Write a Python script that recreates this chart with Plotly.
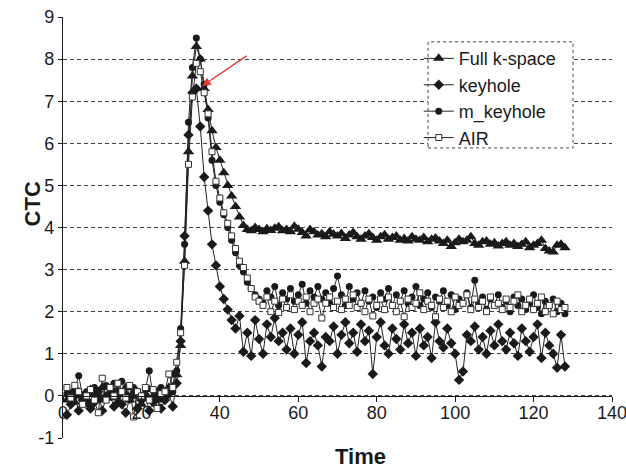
import plotly.graph_objects as go

# ---------------- data ----------------
FULL_KSPACE = [
    -0.1, 0.05, -0.15, 0.1, 0.0, -0.2, 0.15, 0.05, -0.1, 0.2,
    0.0, -0.05, 0.1, -0.15, 0.05, 0.2, -0.1, 0.0, 0.1, -0.2,
    0.05, 0.15, -0.05, 0.1, -0.1, 0.05, 0.2, 0.5,
    0.5, 1.2, 3.2, 5.8, 7.6, 8.3, 8.0, 7.3, 6.8, 6.3, 5.9, 5.6,
    5.3, 5.0, 4.75, 4.5, 4.25, 4.05, 3.95,
    3.92, 4.0, 3.95, 3.9, 3.97, 3.93, 3.98, 4.02, 3.92, 3.95, 3.9, 4.03, 3.96,
    3.88, 3.8, 3.95, 3.9, 3.82, 3.85, 3.78, 3.9, 3.84, 3.8, 3.86, 3.74, 3.82, 3.88, 3.78,
    3.72, 3.8, 3.85, 3.76, 3.7, 3.78, 3.83, 3.72, 3.76, 3.8, 3.7, 3.74, 3.68, 3.78, 3.72,
    3.7, 3.76, 3.66, 3.72, 3.75, 3.68, 3.62, 3.7, 3.55, 3.64, 3.72, 3.66, 3.7, 3.78, 3.62,
    3.58, 3.66, 3.68, 3.6, 3.64, 3.56, 3.62, 3.66, 3.58, 3.62, 3.55, 3.6, 3.66, 3.52, 3.58,
    3.62, 3.7, 3.5, 3.44, 3.42, 3.58, 3.6, 3.52,
]

KEYHOLE = [
    -0.45, -0.2, 0.0, -0.35, -0.1, 0.05, -0.3, -0.15, 0.1, -0.35,
    -0.05, 0.0, -0.25, 0.1, -0.2, -0.4, -0.05, 0.05, -0.3, -0.1,
    0.0, -0.35, -0.15, -0.05, -0.3, -0.1, 0.05, -0.25,
    0.3, 1.3, 3.8, 6.2, 7.2, 7.3, 6.4, 5.2, 4.4, 3.6, 3.1, 2.6,
    2.3, 2.05, 1.8,
    1.6, 1.9, 1.05, 1.5, 0.95, 1.8, 1.35, 1.0, 1.7, 1.4, 1.85, 1.3, 1.5, 1.1, 1.6,
    1.0, 1.45, 1.75, 0.78, 1.3, 1.5, 1.2, 0.7, 1.4, 1.3, 1.65, 1.0, 1.45, 1.75, 1.25,
    1.5, 1.05, 1.7, 1.3, 1.55, 0.52, 1.4, 1.75, 1.2, 1.0, 1.6, 1.35, 1.1, 1.7, 1.25,
    1.5, 0.95, 1.6, 1.2, 1.4, 0.9, 1.75, 1.3, 1.15, 1.6, 1.25, 1.0, 0.38, 0.58, 1.45,
    1.3, 1.65, 1.1, 1.4, 1.0, 1.55, 1.2, 1.7, 1.3, 1.1, 1.5, 1.25, 0.95, 1.6, 1.3,
    1.05, 1.4, 1.7, 0.9, 1.5, 1.2, 1.0, 0.67, 1.45, 0.7,
]

M_KEYHOLE = [
    0.05, -0.1, 0.15, 0.48, 0.0, 0.1, -0.15, 0.2, 0.05, -0.05,
    0.25, 0.1, 0.3, 0.0, 0.35, 0.05, -0.1, 0.2, 0.1, 0.0,
    0.15, 0.6, -0.05, 0.1, 0.2, 0.0, 0.15, 0.1,
    0.6, 1.6, 3.6, 6.5, 7.8, 8.5, 8.0, 7.4, 6.6, 5.6, 5.0, 4.6,
    4.3, 4.0, 3.7, 3.4, 3.1, 2.95, 2.7, 2.55, 2.4, 2.3,
    2.2, 2.5, 2.35, 2.6, 2.15, 2.45, 2.3, 2.55, 2.25, 2.4, 2.65, 2.2, 2.5, 2.35, 2.6,
    2.3, 2.45, 2.2, 2.55, 2.85, 2.4, 2.15, 2.6, 2.3, 2.45, 2.2, 2.5, 2.25, 2.35, 2.1,
    2.45, 2.3, 2.55, 2.15, 2.4, 2.25, 2.5, 2.2, 2.35, 2.6, 2.15, 2.3, 2.45, 2.1, 2.35,
    2.25, 2.5, 2.15, 2.4, 2.05, 2.3, 2.2, 2.45, 2.1, 2.75, 2.2, 2.35, 2.05, 2.3, 2.15,
    2.4, 2.1, 2.25, 2.0, 2.35, 2.15, 2.3, 2.05, 2.2, 2.4, 2.1, 1.95, 2.25, 2.15, 2.3,
    2.0, 2.2, 1.95,
]

AIR = [
    0.2, -0.05, 0.25, 0.1, -0.2, 0.0, 0.15, -0.1, -0.4, 0.42,
    -0.1, 0.2, 0.0, 0.3, 0.1, -0.05, 0.25, -0.5, 0.1, 0.0,
    0.2, -0.1, 0.15, -0.3, 0.05, 0.1, 0.52, 0.2,
    0.8, 1.5, 3.1, 5.5, 7.1, 7.9, 7.7, 7.2, 6.7, 5.8, 5.1, 4.7,
    4.35, 4.1, 3.8, 3.5, 3.2, 3.05, 2.8, 2.55, 2.35, 2.25,
    2.15, 2.35, 2.0, 2.25, 1.98, 2.3, 2.1, 2.4, 2.05, 2.25, 2.15, 2.35, 2.0, 2.2, 2.3,
    1.85, 2.2, 2.35, 2.1, 2.25, 2.05, 2.3, 2.15, 2.4, 2.1, 2.2, 2.0, 2.3, 1.9, 2.15,
    2.3, 2.05, 2.35, 2.15, 2.0, 2.25, 1.88, 2.3, 2.1, 2.2, 2.45, 2.05, 2.25, 2.15, 1.88,
    2.3, 2.1, 2.25, 2.0, 2.35, 2.15, 2.2, 2.4, 2.05, 2.3, 2.1, 2.25, 2.0, 2.35, 2.15,
    2.2, 2.05, 2.3, 2.1, 2.25, 2.4, 2.0, 2.15, 2.3, 2.05, 2.2, 2.35, 2.0, 2.15, 1.95,
    2.25, 2.05, 2.1,
]

SERIES_NAMES = ["Full k-space", "keyhole", "m_keyhole", "AIR"]
X_TICKS = [0, 20, 40, 60, 80, 100, 120, 140]
Y_TICKS = [-1, 0, 1, 2, 3, 4, 5, 6, 7, 8, 9]
Y_TICK_TEXT = ["-1", "0", "1", "2", "3", "4", "5", "6", "7", "8", "9"]
X_RANGE = [0, 140]
Y_RANGE = [-1, 9]
ARROW_HEAD = (35.5, 7.36)
ARROW_TAIL = (47.2, 8.1)

FONT = "Liberation Sans, Arial, sans-serif"
INK = "#1a1a1a"

styles = [
    dict(symbol="triangle-up", size=10, color=INK, line=dict(width=0)),
    dict(symbol="diamond", size=8, color=INK, line=dict(width=0)),
    dict(symbol="circle", size=7, color=INK, line=dict(width=0)),
    dict(symbol="square", size=6, color="white", line=dict(width=1, color="#333333")),
]

fig = go.Figure()
for name, vals, mk in zip(SERIES_NAMES, [FULL_KSPACE, KEYHOLE, M_KEYHOLE, AIR], styles):
    fig.add_trace(go.Scatter(
        x=list(range(1, len(vals) + 1)), y=vals, name=name,
        mode="lines+markers",
        line=dict(color="#222222", width=1),
        marker=mk,
    ))

zero_frac = (0 - Y_RANGE[0]) / (Y_RANGE[1] - Y_RANGE[0])

fig.update_layout(
    width=626, height=469,
    margin=dict(l=63, r=14, t=17, b=31, autoexpand=False),
    paper_bgcolor="white", plot_bgcolor="white",
    font=dict(family=FONT, size=18, color=INK),
    showlegend=True,
    legend=dict(
        x=0.648, y=0.945, xanchor="left", yanchor="top",
        bgcolor="rgba(0,0,0,0)", borderwidth=0,
        font=dict(family=FONT, size=18, color=INK),
        itemwidth=30, tracegroupgap=0,
    ),
    xaxis=dict(
        range=X_RANGE, tickvals=X_TICKS, anchor="free", position=zero_frac,
        showline=True, linecolor=INK, linewidth=1.2,
        ticks="outside", ticklen=5, tickcolor=INK,
        showgrid=False, zeroline=False, automargin=False,
        ticklabeloverflow="allow", ticklabelstandoff=-5,
        tickfont=dict(family=FONT, size=18, color=INK),
    ),
    yaxis=dict(
        range=Y_RANGE, tickvals=Y_TICKS, ticktext=Y_TICK_TEXT,
        showline=True, linecolor=INK, linewidth=1.2,
        ticks="outside", ticklen=4, tickcolor=INK,
        showgrid=True, gridcolor="#444444", gridwidth=1, griddash="4px,3px",
        zeroline=False, automargin=False, ticklabeloverflow="allow",
        tickfont=dict(family=FONT, size=18, color=INK),
    ),
    shapes=[dict(
        type="rect", xref="paper", yref="paper",
        x0=0.665, x1=0.929, y0=0.689, y1=0.941,
        line=dict(color="#444444", width=1, dash="dot"),
        fillcolor="white", layer="above",
    )],
    annotations=[
        dict(text="<b>CTC</b>", xref="paper", yref="paper", x=-0.082, y=0.556,
             textangle=-90, showarrow=False, font=dict(family=FONT, size=22, color=INK)),
        dict(text="<b>Time</b>", xref="paper", yref="paper", x=0.541, y=-0.045,
             showarrow=False, yanchor="middle", font=dict(family=FONT, size=22, color=INK)),
        dict(text="", x=ARROW_HEAD[0], y=ARROW_HEAD[1], ax=ARROW_TAIL[0], ay=ARROW_TAIL[1],
             xref="x", yref="y", axref="x", ayref="y", showarrow=True,
             arrowhead=2, arrowsize=1.3, arrowwidth=1.3, arrowcolor="#e8392b"),
    ],
)

fig.write_html(
    "out.html",
    config={"displayModeBar": False},
    post_script="document.body.style.margin='0';document.body.style.padding='0';document.body.style.overflow='hidden';",
)
